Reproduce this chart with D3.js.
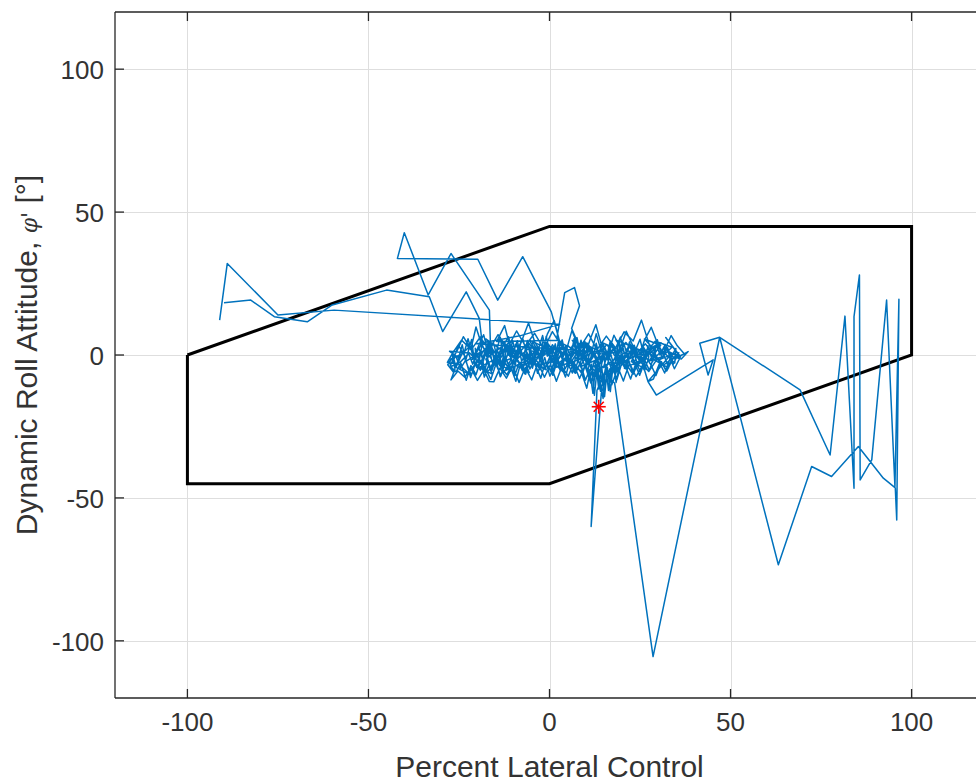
<!DOCTYPE html>
<html>
<head>
<meta charset="utf-8">
<script src="https://cdn.jsdelivr.net/npm/d3@7"></script>
<style>
  body { margin: 0; background: #fff; }
  svg { display: block; font-family: "Liberation Sans", Arial, Helvetica, sans-serif; }
</style>
</head>
<body>
<svg id="chart" width="976" height="783"></svg>
<script>
// THE DATA
// axis ticks
const xTicks = [-100, -50, 0, 50, 100];
const yTicks = [-100, -50, 0, 50, 100];

// envelope (black boundary)
const envelopeX = [-100, 0, 100, 100, 0, -100, -100];
const envelopeY = [0, 45, 45, 0, -45, -45, 0];

// start marker (red asterisk)
const markerPoint = [13.6, -18.1];

// trace pieces, [percent lateral control, roll attitude]
const leftStart = [[-89.9,18.3],[-82.5,19.2],[-76,13.4],[-66.9,11.6],[-60,17.5],[-45,22.7],[-33.2,20.4],[-29.5,8.2],[-23,22.1],[-19.4,12.8]];

const sweep1 = [[-18.6,4.2],[-21.3,-1.5],[-16.9,2.8],[-19.8,-4.6],[-14.2,-0.9],[-17.5,5.6],[-12.8,1.3],[-15.9,-3.8],[-10.6,-1.2],[-13.3,4.9],[-8.7,0.6],[-11.9,-5.3],[-6.5,-2.1],[-9.4,3.7],[-4.2,1.1],[-7.8,-4.2],[-2.9,-0.3],[-5.6,5.2],[-0.7,2.4],[-3.4,-3.6],[1.8,-1.8],[-1.3,3.9],[3.6,0.9],[0.4,-4.9],[5.7,-2.6],[2.9,4.4],[7.4,1.6],[4.8,-3.3],[9.6,-0.8],[6.3,5.1],[11.2,2.2],[8.5,-4.1],[13.4,-1.5],[10.1,3.6],[15.3,0.4],[12.7,-5.6],[17.1,-2.4],[14.6,4.3],[19.2,1.7],[16.8,-3.9],[21.5,-0.6],[18.3,5.3],[23.4,2.6],[20.7,-4.7],[25.1,-1.9],[22.4,3.1],[26.8,0.8],[24.6,-3.2],[28.9,1.9],[26.2,5.6],[30.7,3.4],[27.5,-2.1],[31.6,-0.4],[29.3,4.8],[33.8,2.7],[30.4,-1.6],[35.2,0.9],[32.1,6.1]];

const denseB = [[36.2,-0.6],[34.5,-4.8],[33.3,-1.2],[31.8,-6.3],[30.4,-2.7],[29.1,0.8],[27.6,-5.4],[26.3,-1.9],[24.9,-7.1],[23.4,-2.4],[22.2,1.3],[20.8,-4.6],[19.3,-0.7],[18.1,-6.8],[16.6,-3.2],[15.2,1.1],[13.9,-5.9],[12.4,-2.1],[11.2,-8.3],[9.7,-3.6],[8.4,0.4],[6.9,-6.2],[5.6,-1.5],[4.3,-4.9],[2.8,1.6],[1.5,-3.8],[0.1,-7.4],[-1.3,-0.9],[-2.6,-5.1],[-4.1,-2.3],[-5.4,1.4],[-6.8,-6.6],[-8.1,-3.1],[-9.5,-0.2],[-10.8,-5.7],[-12.2,-2.8],[-13.6,-7.6],[-14.9,-1.2],[-16.3,-4.4],[-17.6,0.6],[-19.1,-5.3],[-20.4,-2.6],[-21.8,-7.9],[-23.1,-1.7],[-24.6,-4.8],[-25.9,-0.3],[-27.4,-3.6]];

const denseC = [[-26.8,-2.1],[-25.1,3.4],[-23.7,0.2],[-22.5,5.7],[-20.9,-1.4],[-19.7,2.9],[-18.2,7.1],[-16.8,0.6],[-15.5,4.4],[-14.1,-2.6],[-12.9,3.1],[-11.3,6.4],[-10.1,-0.9],[-8.7,2.2],[-7.4,5.9],[-5.9,-1.8],[-4.6,4.7],[-3.3,1.1],[-1.9,6.8],[-0.6,-0.4],[0.8,3.6],[2.1,0.9],[3.5,5.3],[4.8,-2.2],[6.1,2.7],[7.6,6.1],[8.8,-1.1],[10.2,4.2],[11.5,0.3],[12.9,7.4],[14.2,1.8],[15.6,-1.6],[16.8,4.9],[18.3,2.4],[19.6,6.3],[20.9,-0.7],[22.3,3.8],[23.6,1.2],[25.0,5.5],[26.4,-1.9],[27.8,2.6],[29.2,4.8],[30.5,0.1],[32.0,3.7],[33.4,-1.2],[34.9,2.3]];

const sweep2 = [[34.6,-2.8],[31.2,1.4],[32.9,-4.5],[28.1,-1.2],[29.6,3.2],[25.3,-0.4],[26.9,-5.1],[22.6,-2.3],[24.1,1.8],[19.8,-3.7],[21.4,0.6],[17.2,-6.2],[18.5,-1.1],[14.9,-4.4],[16.3,1.5],[12.1,-3.1],[13.8,-7.6],[10.4,-2.4],[11.6,2.7],[7.9,-1.9],[9.2,-5.8],[5.1,-3.2],[6.7,1.3],[2.8,-2.6],[4.1,-6.3],[0.2,-1.7],[1.6,3.1],[-2.3,-0.8],[-0.9,-5.2],[-4.8,-2.9],[-3.1,1.6],[-7.2,-1.3],[-5.6,-6.1],[-9.6,-3.4],[-8.1,2.2],[-12.3,-0.7],[-10.7,-5.4],[-14.9,-2.6],[-13.2,2.9],[-17.6,-1.4],[-15.8,-6.7],[-20.4,-3.8],[-18.9,1.2],[-23.1,-2.2],[-21.6,-7.1],[-25.8,-4.3],[-24.2,0.4],[-27.9,-1.8],[-26.4,-6.2],[-28.1,-3.4]];

const sweep3a = [[-25.6,1.2],[-23.8,6.4],[-21.7,2.1],[-20.3,9.8],[-18.7,3.4],[-16.2,-1.1]];
const upperLoop = [[-16.6,15.7],[-27.2,35.5],[-33.5,21],[-40.1,42.8],[-42,33.8],[-19.8,33.5],[-14.3,19.2],[-7.4,34.4],[0.5,15.1]];
const sweep3b = [[2.7,5.2],[-14.6,4.7],[-12.4,10.3],[-11.1,3.8],[-9.3,-0.6],[-7.4,5.9],[-5.8,11.2],[-4.1,4.6],[-2.2,0.7],[-0.6,7.3],[1.3,12.1],[2.7,5.2],[4.6,1.4],[6.2,8.6],[7.9,3.1],[9.4,-1.3],[11.3,5.7],[12.8,10.6],[14.2,4.2],[16.1,0.3],[17.8,6.9],[19.6,2.5],[21.2,8.3],[22.9,3.6],[24.7,-0.9],[26.3,5.4],[28.1,9.7],[29.8,4.1],[31.4,0.6],[33.6,6.8],[35.3,3.2],[37.2,0.4]];

const sweep4 = [[34.1,-1.3],[32.4,-5.6],[30.6,-2.2],[28.7,-8.4],[27.2,-9.3],[25.8,-3.4],[23.9,-7.6],[22.1,-2.8],[20.4,-9.1],[18.9,-4.3],[17.2,-10.4],[15.6,-5.2],[14.1,-12.7],[12.9,-4.6],[11.4,-9.8],[9.8,-3.7],[8.3,-8.2],[6.6,-2.9],[5.2,-7.4],[3.4,-4.1],[1.9,-9.2],[0.3,-3.3],[-1.4,-7.8],[-3.2,-2.6],[-4.9,-8.7],[-6.7,-4.4],[-8.4,-9.6],[-10.2,-3.8],[-11.9,-8.1],[-13.7,-4.6],[-15.4,-9.4],[-16.6,-9.3],[-18.1,-5.2],[-19.9,-8.9],[-21.7,-4.7],[-23.4,-7.8],[-25.3,-5.6],[-27.2,-8.7],[-26.1,-4.9]];

const denseA = [[-27,1.2],[-25.8,-4.3],[-24.1,3.6],[-23.2,-2.1],[-21.5,5.4],[-20.6,-3.8],[-18.8,0.9],[-17.9,-5.7],[-16.1,4.1],[-15.3,-1.6],[-13.6,6.2],[-12.4,-3.1],[-11.1,2.4],[-9.8,-6.3],[-8.6,3.3],[-7.2,-0.8],[-6.1,5.1],[-4.7,-4.6],[-3.5,1.7],[-2.2,-2.9],[-0.9,6.6],[0.4,-1.3],[1.6,3.9],[2.9,-5.2],[4.2,2.2],[5.4,-3.7],[6.8,5.8],[7.9,-0.5],[9.3,4.4],[10.5,-6.1],[11.8,1.3],[13.1,-2.6],[14.3,3.7],[15.6,-4.9],[16.9,0.4],[18.2,-5.5],[19.4,2.8],[20.7,-1.7],[22.1,4.6],[23.3,-3.3],[24.6,1.9],[25.9,-4.1],[27.2,3.2],[28.5,-2.4],[29.8,5.3],[31.1,-1.1],[32.6,2.6],[34.1,-3.4],[35.7,0.8]];

const denseD = [[33.7,-1.8],[32.2,-5.6],[30.9,-2.3],[29.4,-7.2],[28.0,-3.4],[26.7,-0.9],[25.2,-6.1],[23.9,-2.7],[22.4,-8.4],[21.1,-4.2],[19.7,-1.3],[18.4,-9.6],[17.6,-3.1],[16.8,-12.8],[16.0,-4.4],[15.2,-14.6],[14.4,-3.7],[13.6,-11.9],[12.8,-2.9],[12.0,-13.4],[11.1,-5.2],[9.9,-8.8],[8.5,-2.6],[7.2,-6.4],[5.8,-1.1],[4.4,-7.7],[3.1,-3.5],[1.7,-0.6],[0.4,-5.8],[-1.1,-2.2],[-2.4,-8.1],[-3.8,-3.9],[-5.1,-0.8],[-6.6,-6.7],[-7.9,-2.5],[-9.3,-9.2],[-10.6,-4.6],[-12.1,-1.4],[-13.4,-7.3],[-14.8,-3.2],[-16.2,-8.6],[-17.5,-5.1],[-19.0,-1.9],[-20.3,-6.9],[-21.7,-3.7],[-23.0,-8.8],[-24.5,-2.8],[-25.8,-5.9],[-27.3,-4.1]];

const sweep5 = [[-24.6,-2.4],[-22.1,0.8],[-19.3,-3.1],[-16.8,1.9],[-14.1,-2.2],[-11.7,2.6],[-9.2,-1.7],[-6.6,1.4],[-4.3,-3.3],[-1.8,2.2],[0.7,-1.4],[3.3,2.8],[5.8,-2.7],[8.1,1.6],[10.6,-3.4],[12.9,0.9],[15.4,-2.1],[17.7,2.4],[20.2,-1.6],[22.8,1.9],[25.3,-2.8],[27.6,0.7],[30.1,-1.9],[32.7,1.3],[35.8,-0.6],[38.3,1.2],[36.4,-1.4],[33.2,-0.3]];

const rightTrip = [[30.6,-4.2],[27.2,-9.3],[29.5,-14],[45.2,-1.7],[43.8,-7],[41.5,4.1],[47,6.2],[69.2,-12.2],[77.5,-35],[81.6,13.6],[84.1,-46.6],[84.1,13.4],[85.6,28],[85.8,-43.7],[89,-36.7],[93.1,19.2],[95.4,-46],[96.5,19.5],[95.9,-57.7],[95.5,-46.5],[92.2,-43.1],[85.3,-32],[77.9,-42.5],[72.4,-39],[63.2,-73.4],[47,6.2],[28.6,-105.5],[18,-9.9]];

const spike = [[15.2,-6.1],[13.1,-12.4],[11.5,-60],[14.3,-13.4],[16.7,-4.8]];

const sweep6 = [[30.8,4.3],[28.2,1.1],[25.4,12.2],[23.1,4.9],[20.6,8.1],[18.2,2.3],[15.7,6.6],[13.1,1.8],[10.8,7.4],[8.4,2.6],[6.1,9.3],[8.3,17.2],[6.9,23.6],[4.2,21.8],[2.1,6.4],[3.2,3.4],[0.8,8.2],[-1.6,2.1],[-4.1,7.6],[-6.7,3.2],[-9.1,8.4],[-11.6,2.4],[-14.2,7.1],[-16.8,1.6],[-19.1,6.3],[-21.6,1.9],[-24.3,5.2],[-26.8,0.6],[-28.2,-2.6]];

const sweep7 = [[-25.2,-3.1],[-22.4,-6.3],[-19.7,-1.9],[-17.1,-5.8],[-14.5,-2.4],[-11.8,-6.9],[-9.3,-1.6],[-6.8,-5.2],[-4.2,-1.1],[-1.6,-4.8],[1.1,-0.9],[3.7,-5.5],[6.2,-1.8],[8.9,-6.4],[10.3,-11.6],[11.6,-3.2],[12.4,-14.1],[13.2,-4.3],[14.8,-15.2],[15.5,-3.6],[16.3,-12.4],[17.1,-2.2],[18.6,-8.7],[20.3,-1.4],[22.7,-6.1],[25.1,-2.3],[27.4,-5.8],[29.9,-1.1],[31.5,-3.6],[34.2,-0.8]];

const sweep8 = [[31.9,2.6],[29.3,-0.7],[26.5,3.9],[23.8,0.2],[21.1,4.4],[18.4,-0.9],[15.8,3.7],[13.2,-1.2],[10.5,4.1],[7.8,-0.4],[5.1,3.3],[2.4,-1.6],[-0.3,3.8],[-3.1,-0.2],[-5.9,4.5],[-8.6,0.3],[-11.4,4.2],[-14.1,-0.6],[-16.9,3.6],[-19.6,-1.1],[-22.3,2.7],[-25.1,-0.9],[-27.6,1.3]];

const denseE = [[-22.4,0.7],[-21.2,-3.2],[-19.6,2.9],[-18.5,-1.4],[-17.0,4.1],[-15.8,-2.6],[-14.3,1.3],[-13.1,-4.4],[-11.6,3.2],[-10.4,-0.6],[-8.9,5.0],[-7.7,-2.1],[-6.2,0.9],[-5.0,-3.7],[-3.6,2.6],[-2.3,-1.2],[-0.9,4.3],[0.4,-2.8],[1.8,1.6],[3.0,-4.9],[4.5,3.4],[5.7,-0.3],[7.1,2.1],[8.4,-3.6],[9.8,4.6],[11.0,-1.8],[12.5,0.6],[13.7,-4.2],[15.1,3.1],[16.4,-0.9],[17.8,2.4],[19.1,-3.3],[20.5,4.2],[21.8,-1.5],[23.2,1.1],[24.5,-3.9],[25.9,2.8],[27.4,-0.4]];

const denseG = [[27.3,-1.6],[26.1,-5.2],[25.2,-0.8],[24.0,-4.1],[23.1,-6.7],[21.9,-1.9],[21.0,-4.8],[19.8,-0.4],[18.9,-6.1],[17.7,-2.6],[16.8,-8.2],[15.6,-3.4],[14.7,-10.6],[13.5,-2.1],[12.6,-7.4],[11.4,-4.3],[10.5,-1.2],[9.3,-5.8],[8.4,-2.9],[7.2,-0.7],[6.3,-6.3],[5.1,-3.1],[4.2,-1.4],[3.0,-5.6],[2.1,-2.4],[0.9,-7.1],[0.0,-0.9],[-1.2,-4.6],[-2.1,-2.2],[-3.3,-6.4],[-4.2,-1.6],[-5.4,-4.9],[-6.3,-0.3],[-7.5,-5.5],[-8.4,-2.8],[-9.6,-7.2],[-10.5,-1.3],[-11.7,-4.2],[-12.6,-6.1],[-13.8,-2.5],[-14.7,-0.6],[-15.9,-5.3],[-16.8,-3.6],[-18.0,-7.7],[-18.9,-1.9],[-20.1,-4.4]];

const denseF = [[-20.5,2.4],[-19.4,-1.9],[-18.6,3.8],[-17.3,-0.6],[-16.5,4.6],[-15.2,-2.2],[-14.4,1.7],[-13.1,-3.1],[-12.3,3.3],[-11.0,0.2],[-10.2,5.1],[-8.9,-1.4],[-8.1,2.6],[-6.8,-2.7],[-6.0,4.2],[-4.7,-0.3],[-3.9,3.1],[-2.6,-2.4],[-1.8,5.4],[-0.5,0.6],[0.3,2.2],[1.6,-3.3],[2.4,4.4],[3.7,-0.9],[4.5,1.8],[5.8,-2.6],[6.6,3.9],[7.9,0.3],[8.7,5.2],[10.0,-1.8],[10.8,2.7],[12.1,-0.4],[12.9,4.1],[14.2,-2.9],[15.0,1.4],[16.3,-1.1],[17.1,3.6],[18.4,-0.2],[19.2,4.8],[20.5,-2.3],[21.3,2.1],[22.6,0.4],[23.4,3.4],[24.7,-1.6],[25.5,2.5],[26.8,0.1]];

const leftEnd = [[-20.1,3.9],[-8.2,6.7],[2.8,10.8],[-59.5,15.7],[-75,14],[-89,32],[-91.1,12.2]];

const trace = [].concat(leftStart, sweep1, denseB, denseC, sweep2, sweep3a, upperLoop, sweep3b,
  sweep4, denseA, denseD, sweep5, rightTrip, spike, sweep6, sweep7, sweep8, denseE,
  denseG, denseF, leftEnd);

// SETTING UP
const svg = d3.select("#chart");
const plot = {left: 115, top: 12, right: 984, bottom: 698};

const x = d3.scaleLinear().domain([-120, 120]).range([plot.left, plot.right]);
const y = d3.scaleLinear().domain([-120, 120]).range([plot.bottom, plot.top]);

svg.append("defs").append("clipPath").attr("id", "plotClip")
  .append("rect")
  .attr("x", plot.left).attr("y", plot.top)
  .attr("width", plot.right - plot.left).attr("height", plot.bottom - plot.top);

// grid
const grid = svg.append("g").attr("stroke", "#dedede").attr("stroke-width", 1);
grid.selectAll(".gx").data(xTicks).join("line")
  .attr("x1", d => Math.round(x(d)) + 0.5).attr("x2", d => Math.round(x(d)) + 0.5)
  .attr("y1", plot.top).attr("y2", plot.bottom);
grid.selectAll(".gy").data(yTicks).join("line")
  .attr("y1", d => Math.round(y(d)) + 0.5).attr("y2", d => Math.round(y(d)) + 0.5)
  .attr("x1", plot.left).attr("x2", plot.right);

const g = svg.append("g").attr("clip-path", "url(#plotClip)");

// envelope
const envelope = envelopeX.map((v, i) => [v, envelopeY[i]]);
g.append("path")
  .datum(envelope)
  .attr("d", d3.line().x(d => x(d[0])).y(d => y(d[1])))
  .attr("fill", "none")
  .attr("stroke", "#000")
  .attr("stroke-width", 3)
  .attr("stroke-linejoin", "miter");

// trace
g.append("path")
  .datum(trace)
  .attr("d", d3.line().x(d => x(d[0])).y(d => y(d[1])))
  .attr("fill", "none")
  .attr("stroke", "#0072BD")
  .attr("stroke-width", 1.5)
  .attr("stroke-linejoin", "round");

// red asterisk
const mx = x(markerPoint[0]), my = y(markerPoint[1]), r = 7;
const star = g.append("g").attr("stroke", "#ff0000").attr("stroke-width", 1.6);
[[-r, 0, r, 0], [0, -r, 0, r], [-r * 0.72, -r * 0.72, r * 0.72, r * 0.72], [-r * 0.72, r * 0.72, r * 0.72, -r * 0.72]]
  .forEach(s => star.append("line")
    .attr("x1", mx + s[0]).attr("y1", my + s[1]).attr("x2", mx + s[2]).attr("y2", my + s[3]));

// axes box
const axisColor = "#262626";
const textColor = "#333333";
const axes = svg.append("g").attr("stroke", axisColor).attr("stroke-width", 1.3).attr("fill", "none");
axes.append("line").attr("x1", plot.left).attr("x2", plot.left).attr("y1", plot.top).attr("y2", plot.bottom);
axes.append("line").attr("x1", plot.left).attr("x2", plot.right).attr("y1", plot.bottom).attr("y2", plot.bottom);
axes.append("line").attr("x1", plot.left).attr("x2", plot.right).attr("y1", plot.top).attr("y2", plot.top);

// ticks (inside)
axes.selectAll(".tx").data(xTicks).join("line")
  .attr("x1", d => x(d)).attr("x2", d => x(d))
  .attr("y1", plot.bottom).attr("y2", plot.bottom - 9);
axes.selectAll(".txt").data(xTicks).join("line")
  .attr("x1", d => x(d)).attr("x2", d => x(d))
  .attr("y1", plot.top).attr("y2", plot.top + 9);
axes.selectAll(".ty").data(yTicks).join("line")
  .attr("y1", d => y(d)).attr("y2", d => y(d))
  .attr("x1", plot.left).attr("x2", plot.left + 9);

// tick labels
svg.append("g").selectAll("text").data(xTicks).join("text")
  .attr("x", d => x(d)).attr("y", 731)
  .attr("text-anchor", "middle")
  .attr("font-size", 26).attr("fill", textColor)
  .text(d => d);
svg.append("g").selectAll("text").data(yTicks).join("text")
  .attr("x", 104).attr("y", d => y(d) + 10)
  .attr("text-anchor", "end")
  .attr("font-size", 26).attr("fill", textColor)
  .text(d => d);

// axis labels
svg.append("text")
  .attr("x", x(0)).attr("y", 777)
  .attr("text-anchor", "middle")
  .attr("font-size", 30).attr("fill", textColor)
  .text("Percent Lateral Control");

const yl = svg.append("text")
  .attr("transform", `translate(37, ${(plot.top + plot.bottom) / 2}) rotate(-90)`)
  .attr("text-anchor", "middle")
  .attr("font-size", 30).attr("fill", textColor);
yl.append("tspan").text("Dynamic Roll Attitude, ");
yl.append("tspan").attr("font-family", "DejaVu Serif").attr("font-style", "italic").attr("font-size", 22).text("φ'");
yl.append("tspan").text(" [°]");
</script>
</body>
</html>
